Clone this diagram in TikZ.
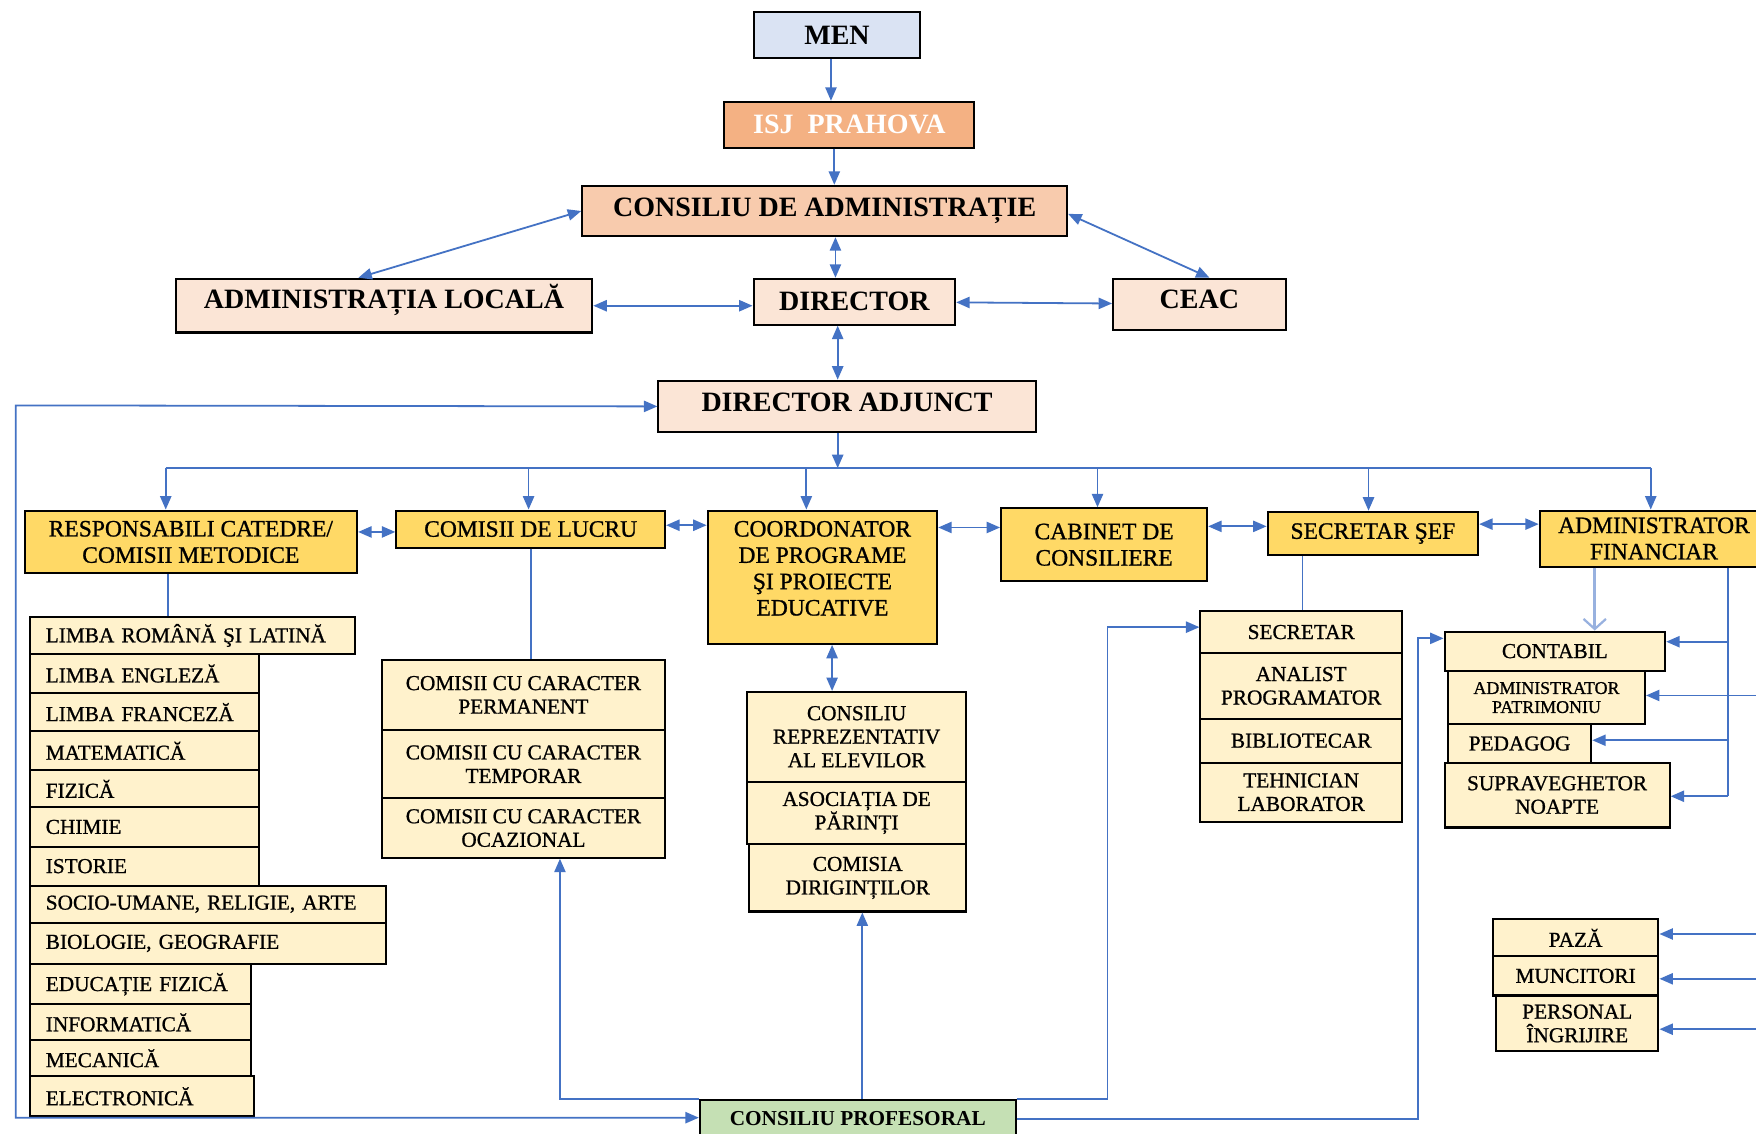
\documentclass[tikz,border=0pt]{standalone}
\usepackage{fontspec}
\setmainfont{Liberation Serif}
\newfontfamily\heavyserif{Liberation Serif}[FakeBold=0.9]
\usetikzlibrary{arrows.meta}
\definecolor{cMEN}{HTML}{DAE3F3}
\definecolor{cISJ}{HTML}{F4B183}
\definecolor{cCA}{HTML}{F8CBAD}
\definecolor{cTop}{HTML}{FBE5D6}
\definecolor{cGold}{HTML}{FFD966}
\definecolor{cSub}{HTML}{FFF2CC}
\definecolor{cCP}{HTML}{C5E0B4}
\definecolor{cLine}{HTML}{4472C4}
\newcommand\fontTop{\fontsize{25}{27}\selectfont\bfseries}
\newcommand\fontGold{\heavyserif\fontsize{21}{23.5}\selectfont}
\newcommand\fontSub{\heavyserif\fontsize{19}{21}\selectfont}
\newcommand\fontPat{\heavyserif\fontsize{16}{17}\selectfont}
\newcommand\fontCP{\fontsize{19}{21}\selectfont\bfseries}
\newcommand\obox[7]{\node[#6,minimum width={(#4-#2)*1pt},minimum height={(#5-#3)*1pt}] (#1) at (#2,#3) {#7};}
\newcommand\lbox[6]{\node[subbox,align=left,text width=#5pt,inner xsep=14pt,minimum height={(#4-#2)*1pt}] (#1) at (26,#2) {#6};}
\begin{document}
\begin{tikzpicture}[x=1pt,y=-1pt,
  plainbox/.style={draw=black,line width=1.8pt,anchor=north west,inner sep=0pt,align=center},
  topbox/.style={plainbox,font=\fontTop},
  goldbox/.style={plainbox,fill=cGold,font=\fontGold},
  subbox/.style={plainbox,fill=cSub,font=\fontSub},
  conn/.style={draw=cLine,line width=1.6pt},
  arr/.style={conn,-{Triangle[length=12pt,width=10pt]}},
  darr/.style={conn,{Triangle[length=12pt,width=10pt]}-{Triangle[length=12pt,width=10pt]}},
  openarr/.style={draw=cLine!55,line width=3pt,-{Straight Barb[length=9pt,width=20pt,line width=2pt]}},
]
\useasboundingbox (0,0) rectangle (1568,1012);
\fill[white] (0,0) rectangle (1568,1012);
\clip (0,0) rectangle (1568,1012);

% top part
\obox{men}{672}{10}{821}{51}{topbox,fill=cMEN}{MEN}
\obox{isj}{646}{90}{869}{131}{topbox,fill=cISJ,text=white}{ISJ\ \ PRAHOVA}
\obox{ca}{519}{165}{952}{210}{topbox,fill=cCA}{CONSILIU DE ADMINISTRAȚIE}
\obox{al}{156}{248}{528}{296}{topbox,fill=cTop,text height=18pt,text depth=13pt}{ADMINISTRAȚIA LOCALĂ}
\obox{dir}{672}{248}{852}{289}{topbox,fill=cTop}{DIRECTOR}
\obox{ceac}{993}{248}{1147}{294}{topbox,fill=cTop,text height=18pt,text depth=11pt}{CEAC}
\obox{da}{587}{339}{924}{385}{topbox,fill=cTop,text height=18pt,text depth=9pt}{DIRECTOR ADJUNCT}

% second row
\obox{resp}{21}{455}{318}{511}{goldbox}{RESPONSABILI CATEDRE/\\COMISII METODICE}
\obox{cdl}{353}{455}{593}{488}{goldbox}{COMISII DE LUCRU}
\obox{coord}{631}{455}{836}{574}{goldbox,text depth=16pt}{COORDONATOR\\DE PROGRAME\\ŞI PROIECTE\\EDUCATIVE}
\obox{cab}{893}{453}{1077}{518}{goldbox}{CABINET DE\\CONSILIERE}
\obox{sef}{1131}{456}{1319}{495}{goldbox}{SECRETAR ŞEF}
\obox{af}{1374}{455}{1578}{505}{goldbox}{ADMINISTRATOR\\FINANCIAR}

% catedre
\lbox{lr}{550}{316}{583}{262}{LIMBA ROMÂNĂ ŞI LATINĂ}
\lbox{le}{583}{230}{618}{176}{LIMBA ENGLEZĂ}
\lbox{lf}{618}{230}{652}{176}{LIMBA FRANCEZĂ}
\lbox{mat}{652}{230}{687}{176}{MATEMATICĂ}
\lbox{fiz}{687}{230}{720}{176}{FIZICĂ}
\lbox{chi}{720}{230}{755}{176}{CHIMIE}
\lbox{ist}{755}{230}{790}{176}{ISTORIE}
\lbox{soc}{790}{344}{823}{290}{SOCIO-UMANE, RELIGIE, ARTE}
\lbox{bio}{823}{344}{860}{290}{BIOLOGIE, GEOGRAFIE}
\lbox{ef}{860}{223}{896}{169}{EDUCAȚIE FIZICĂ}
\lbox{inf}{896}{223}{928}{169}{INFORMATICĂ}
\lbox{mec}{928}{223}{960}{169}{MECANICĂ}
\lbox{ele}{960}{226}{996}{172}{ELECTRONICĂ}

% comisii
\obox{cpa}{340}{588}{593}{651}{subbox}{COMISII CU CARACTER\\PERMANENT}
\obox{cpb}{340}{651}{593}{712}{subbox}{COMISII CU CARACTER\\TEMPORAR}
\obox{cpc}{340}{712}{593}{765}{subbox}{COMISII CU CARACTER\\OCAZIONAL}

% coordonator
\obox{cre}{666}{617}{862}{697}{subbox}{CONSILIU\\REPREZENTATIV\\AL ELEVILOR}
\obox{ap}{666}{697}{862}{753}{subbox}{ASOCIAȚIA DE\\PĂRINȚI}
\obox{cd}{668}{753}{862}{813}{subbox}{COMISIA\\DIRIGINȚILOR}

% secretariat
\obox{sec}{1071}{545}{1251}{582}{subbox}{SECRETAR}
\obox{an}{1071}{582}{1251}{641}{subbox}{ANALIST\\PROGRAMATOR}
\obox{bib}{1071}{641}{1251}{680}{subbox}{BIBLIOTECAR}
\obox{teh}{1071}{680}{1251}{733}{subbox}{TEHNICIAN\\LABORATOR}

% administrativ
\obox{cont}{1289}{563}{1486}{598}{subbox}{CONTABIL}
\obox{adp}{1292}{598}{1468}{646}{subbox,font=\fontPat}{ADMINISTRATOR\\PATRIMONIU}
\obox{ped}{1292}{646}{1420}{680}{subbox}{PEDAGOG}
\obox{sup}{1289}{680}{1490}{738}{subbox}{SUPRAVEGHETOR\\NOAPTE}

\obox{paz}{1332}{820}{1480}{853}{subbox}{PAZĂ}
\obox{mun}{1332}{853}{1480}{888}{subbox}{MUNCITORI}
\obox{pers}{1335}{888}{1480}{938}{subbox}{PERSONAL\\ÎNGRIJIRE}

\obox{cp}{624}{981}{906}{1015}{plainbox,fill=cCP,font=\fontCP}{CONSILIU PROFESORAL}

% helper coordinates
\coordinate (lt) at (14,362);
\coordinate (lb) at (14,998);
\coordinate (busl) at (148,418);
\coordinate (busr) at (1474,418);
\coordinate (afv) at (1543,711);
\coordinate (re1) at (1568,621);
\coordinate (re2) at (1568,834);
\coordinate (re3) at (1568,874);
\coordinate (re4) at (1568,919);

% connectors
\draw[arr] (men.south -| 742,0) -- (isj.north -| 742,0);
\draw[arr] (isj.south -| 745,0) -- (ca.north -| 745,0);
\draw[darr] (ca.south -| 746,0) -- (dir.north -| 746,0);
\draw[darr] (ca.west) -- (al.north -| 320,0);
\draw[darr] (ca.east |- 0,191) -- (ceac.north -| 1080,0);
\draw[darr] (al.east |- 0,273) -- (dir.west |- 0,273);
\draw[darr] (dir.east |- 0,270) -- (ceac.west |- 0,271);
\draw[darr] (dir.south -| 748,0) -- (da.north -| 748,0);
\draw[darr] (da.west) -- (lt) -- (lb) -- (cp.west |- lb);
\draw[arr] (da.south -| 748,0) -- (busl -| 748,0);
\draw[conn] (busl) -- (busr);
\draw[arr] (busl) -- (resp.north -| busl);
\draw[arr] (busl -| 472,0) -- (cdl.north -| 472,0);
\draw[arr] (busl -| 720,0) -- (coord.north -| 720,0);
\draw[arr] (busl -| 980,0) -- (cab.north -| 980,0);
\draw[arr] (busl -| 1222,0) -- (sef.north -| 1222,0);
\draw[arr] (busr) -- (af.north -| busr);

\draw[darr] (resp.east |- 0,475) -- (cdl.west |- 0,475);
\draw[darr] (cdl.east |- 0,469) -- (coord.west |- 0,469);
\draw[darr] (coord.east |- 0,471) -- (cab.west |- 0,471);
\draw[darr] (cab.east |- 0,470) -- (sef.west |- 0,470);
\draw[darr] (sef.east |- 0,468) -- (af.west |- 0,468);

\draw[conn] (resp.south -| 150,0) -- (lr.north -| 150,0);
\draw[conn] (cdl.south -| 474,0) -- (cpa.north -| 474,0);
\draw[darr] (coord.south -| 743,0) -- (cre.north -| 743,0);
\draw[conn] (sef.south -| 1163,0) -- (sec.north -| 1163,0);
\draw[openarr] (af.south -| 1424,0) -- (cont.north -| 1424,0);

\draw[conn] (af.south -| afv) -- (afv);
\draw[arr] (afv |- 0,573) -- (cont.east |- 0,573);
\draw[arr] (afv |- 0,661) -- (ped.east |- 0,661);
\draw[arr] (afv) -- (sup.east |- afv);
\draw[arr] (re1) -- (adp.east |- re1);
\draw[arr] (re2) -- (paz.east |- re2);
\draw[arr] (re3) -- (mun.east |- re3);
\draw[arr] (re4) -- (pers.east |- re4);

\draw[arr] (cp.north west) -| (cpc.south -| 500,0);
\draw[arr] (cp.north -| 770,0) -- (cd.south -| 770,0);
\draw[arr] (cp.north east) -| (989,560) -- (sec.west |- 0,560);
\draw[arr] (cp.east) -| (1266,570) -- (cont.west |- 0,570);
\end{tikzpicture}
\end{document}
